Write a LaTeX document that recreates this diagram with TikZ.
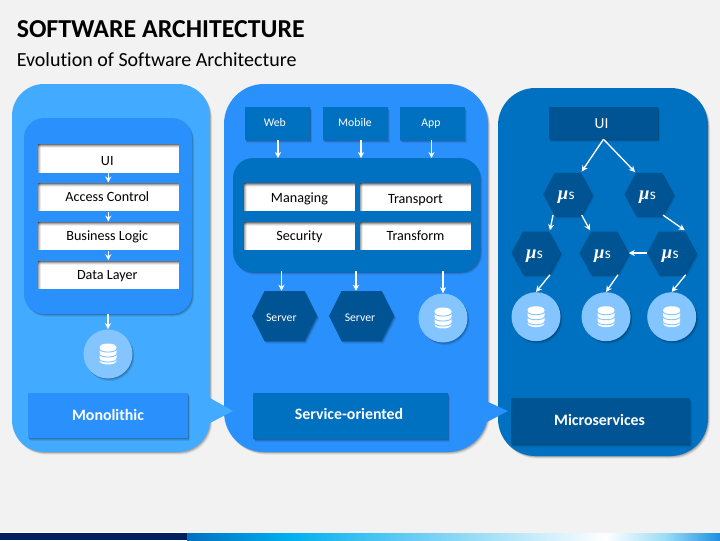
\documentclass[tikz,border=0pt]{standalone}
\usepackage{fontspec}
\setmainfont{Carlito}[Ligatures=NoCommon]
\newfontfamily\mufont{Liberation Serif}
\usetikzlibrary{arrows.meta,calc,shadows}
\definecolor{pageg}{HTML}{F2F2F2}
\definecolor{bluea}{HTML}{42ABFF}
\definecolor{blueb}{HTML}{2A90FC}
\definecolor{bluec}{HTML}{0070C0}
\definecolor{blued}{HTML}{005493}
\definecolor{bluee}{HTML}{84C5FF}
\tikzset{
  x=0.75pt,y=-0.75pt,
  softshade/.style={
    general shadow={shadow xshift=.5pt,shadow yshift=-.6pt,fill=black,opacity=.14},
    general shadow={shadow xshift=1pt,shadow yshift=-1.2pt,fill=black,opacity=.12},
    general shadow={shadow xshift=1.5pt,shadow yshift=-1.9pt,fill=black,opacity=.08}},
  panel/.style={rectangle,softshade,inner sep=0pt,minimum width=#1*0.75pt},
  baseoff/.style={text height=2*#1*0.75pt,text depth=0pt},
  wbox/.style={rectangle,fill=white,text=black,inner sep=0pt,font=\fontsize{10.6pt}{12pt}\selectfont,
    path picture={
      \foreach \ii/\oo in {0/.55,1/.35,2/.18,3/.06}
        \fill[black,opacity=\oo]
          ([yshift=-\ii*0.75pt]path picture bounding box.north west) rectangle
          ([yshift=-\ii*0.75pt-0.75pt]path picture bounding box.north east);
      \foreach \ii/\oo in {0/.35,1/.2,2/.08}
        \fill[black,opacity=\oo]
          ([xshift=\ii*0.75pt]path picture bounding box.north west) rectangle
          ([xshift=\ii*0.75pt+0.75pt]path picture bounding box.south west);
    }},
  smallbox/.style={rectangle,fill=bluec,softshade,text=white,inner sep=0pt,minimum width=65*0.75pt,minimum height=33*0.75pt,font=\fontsize{8.8pt}{10pt}\selectfont},
  bigbox/.style={rectangle,softshade,text=white,inner sep=0pt,font=\fontsize{11.9pt}{13pt}\selectfont\bfseries},
  hexnode/.style={rectangle,inner sep=0pt,text=white},
  dbcircle/.style={circle,fill=bluee,softshade,inner sep=0pt,minimum size=49*0.75pt},
  arr/.style={draw=white,line width=1pt,-{Stealth[length=4.5pt,width=4.6pt]}},
}
% hexagon: name, cx, cy, half width, half height, inset, font, text
\newcommand{\hexa}[8]{%
  \fill[blued,softshade] (#2-#4,#3) -- (#2-#4+#6,#3-#5) -- (#2+#4-#6,#3-#5) -- (#2+#4,#3)
     -- (#2+#4-#6,#3+#5) -- (#2-#4+#6,#3+#5) -- cycle;
  \node[hexnode,minimum width=2*#4*0.75pt,minimum height=2*#5*0.75pt,font=#7] (#1) at (#2,#3) {#8};
}
\newcommand{\mus}{\hspace*{-2.2pt}\raisebox{-3.75pt}[0pt][0pt]{{\fontsize{14pt}{14pt}\mufont\bfseries\itshape μ}\kern.3pt{\fontsize{11.5pt}{12pt}\selectfont s}}}
% database icon at a named node
\newcommand{\dbicon}[1]{%
  \begin{scope}[shift={(#1)}]
    \fill[white] (-8.5,-6.5) .. controls (-8.5,-11.8) and (8.5,-11.8) .. (8.5,-6.5)
       -- (8.5,6.5) .. controls (8.5,11.8) and (-8.5,11.8) .. (-8.5,6.5) -- cycle;
    \draw[bluee,line width=.7pt] (-9,-5.7) .. controls (-9,-.7) and (9,-.7) .. (9,-5.7);
    \draw[bluee,line width=.7pt] (-9,-.7) .. controls (-9,4.3) and (9,4.3) .. (9,-.7);
    \draw[bluee,line width=.7pt] (-9,4.3) .. controls (-9,9.3) and (9,9.3) .. (9,4.3);
  \end{scope}}
\begin{document}
\begin{tikzpicture}
\useasboundingbox (0,0) rectangle (720,540);
\fill[pageg] (0,0) rectangle (720,540);
% bottom bar
\fill[white] (0,532) rectangle (187,533.5);
\fill[white!70!pageg] (187,532.6) rectangle (400,533.5);
\fill[color={rgb,255:red,0;green,32;blue,96}] (0,533.4) rectangle (187,540);
\shade[left color=bluec,right color={rgb,255:red,0;green,176;blue,240}] (187,533.4) rectangle (290,540);
\shade[left color={rgb,255:red,0;green,176;blue,240},right color={rgb,255:red,143;green,216;blue,245}] (289.9,533.4) rectangle (460,540);
\shade[left color={rgb,255:red,143;green,216;blue,245},right color=white] (459.9,533.4) rectangle (606,540);
\shade[left color=white,right color={rgb,255:red,156;green,220;blue,245}] (605.9,533.4) rectangle (665,540);
\shade[left color={rgb,255:red,156;green,220;blue,245},right color={rgb,255:red,28;green,143;blue,224}] (664.9,533.4) rectangle (720,540);
% titles
\node[anchor=west,inner sep=0pt,text=black,font=\fontsize{19.4pt}{22pt}\selectfont\bfseries] (title) at (16.5,29) {SOFTWARE ARCHITECTURE};
\node[anchor=west,inner sep=0pt,text=black,font=\fontsize{15pt}{17pt}\selectfont] (subtitle) at (16.5,60) {Evolution of Software Architecture};
% panels
\node[panel=198,minimum height=368*0.75pt,fill=bluea,rounded corners=24pt] (p1) at (111,268) {};
\node[panel=264,minimum height=368*0.75pt,fill=blueb,rounded corners=30pt] (p2) at (356,268) {};
\node[panel=210,minimum height=368*0.75pt,fill=bluec,rounded corners=28pt] (p3) at (603,272) {};
% pointers
\fill[bluea] (210,398) -- (233,411) -- (210,423) -- cycle;
\fill[blueb] (487,401.5) -- (508,411) -- (487,422) -- cycle;
% ---- monolithic
\node[panel=168,minimum height=196*0.75pt,fill=blueb,rounded corners=15pt] (mono) at (108,216) {};
\foreach \nm/\yy/\bo/\tx in {m1/158.25/6.75/UI,m2/197/4.7/Access Control,m3/236/4.7/Business Logic,m4/274.75/4.25/Data Layer}
  \node[wbox,baseoff=\bo,minimum width=141.5*0.75pt,minimum height=28.5*0.75pt] (\nm) at (108.3,\yy) {\hspace*{-1.5pt}\tx};
\draw[arr] (m1) -- (m2);
\draw[arr] (m2) -- (m3);
\draw[arr] (m3) -- (m4);
\node[dbcircle] (mdb) at (108,354) {};
\dbicon{mdb}
\draw[arr] (mono) -- (mdb);
\node[bigbox,fill=blueb,baseoff=4.5,minimum width=160*0.75pt,minimum height=45*0.75pt] (mlabel) at (108,415.5) {Monolithic};
% ---- service oriented
\node[smallbox] (web) at (277.5,123.5) {\hspace*{-4pt}\raisebox{-1.9pt}[0pt][0pt]{Web}};
\node[smallbox] (mobile) at (355,123.5) {\raisebox{-1.9pt}[0pt][0pt]{Mobile}};
\node[smallbox] (app) at (432,123.5) {\hspace*{-1.5pt}\raisebox{-1.9pt}[0pt][0pt]{App}};
\node[panel=247,minimum height=114*0.75pt,fill=bluec,rounded corners=15pt] (bus) at (356.5,215) {};
\coordinate (bweb) at (278,158);
\coordinate (bmob) at (361,158);
\coordinate (bapp) at (431.5,158);
\draw[arr] (web.south -| bweb) -- (bweb);
\draw[arr] (mobile.south -| bmob) -- (bmob);
\draw[arr] (app.south -| bapp) -- (bapp);
\node[wbox,baseoff=5.5,minimum width=111*0.75pt,minimum height=28.5*0.75pt] (s1) at (299.5,196.75) {Managing};
\node[wbox,baseoff=6.5,minimum width=111*0.75pt,minimum height=28.5*0.75pt] (s2) at (415.5,196.75) {Transport};
\node[wbox,baseoff=4.3,minimum width=111*0.75pt,minimum height=28.5*0.75pt] (s3) at (299.5,235.75) {Security};
\node[wbox,baseoff=4.3,minimum width=111*0.75pt,minimum height=28.5*0.75pt] (s4) at (415.5,235.75) {Transform};
\hexa{srv1}{284.5}{316}{32.5}{25}{12.5}{\fontsize{8.8pt}{10pt}\selectfont}{\hspace*{-4.8pt}\raisebox{-4.3pt}[0pt][0pt]{Server}}
\hexa{srv2}{361.5}{316}{32.5}{25}{12.5}{\fontsize{8.8pt}{10pt}\selectfont}{\hspace*{-2.2pt}\raisebox{-4.3pt}[0pt][0pt]{Server}}
\node[dbcircle] (sdb) at (443,318) {};
\dbicon{sdb}
\draw[arr] (bus.south -| srv1.north) ++(-3,-1) coordinate (a1) (a1) -- (a1 |- srv1.north);
\draw[arr] (bus.south -| srv2.north) ++(-5.5,-1) coordinate (a2) (a2) -- (a2 |- srv2.north);
\draw[arr] (bus.south -| sdb.north) ++(0,-1) coordinate (a3) (a3) -- (sdb.north);
\node[bigbox,fill=bluec,baseoff=3.3,minimum width=194.5*0.75pt,minimum height=46*0.75pt] (slabel) at (350.7,416) {\hspace*{-2.5pt}Service-oriented};
% ---- microservices
\node[rectangle,fill=blued,softshade,text=white,inner sep=0pt,minimum width=109*0.75pt,minimum height=32*0.75pt,font=\fontsize{11.5pt}{12pt}\selectfont] (ui) at (603.5,123) {\hspace*{-3pt}\raisebox{-4pt}[0pt][0pt]{UI}};
\hexa{h1}{567.7}{194.3}{24.5}{21.5}{11.5}{}{\mus}
\hexa{h2}{649}{194.3}{24.5}{21.5}{11.5}{}{\mus}
\hexa{h3}{536}{253}{24.5}{21.5}{11.5}{}{\mus}
\hexa{h4}{604}{253}{24.5}{21.5}{11.5}{}{\mus}
\hexa{h5}{671.7}{253}{24.5}{21.5}{11.5}{}{\mus}
\node[dbcircle] (d3) at (536,316.7) {};
\node[dbcircle] (d4) at (606,316.7) {};
\node[dbcircle] (d5) at (671.7,316.7) {};
\dbicon{d3}\dbicon{d4}\dbicon{d5}
\draw[arr] (ui.south) -- ($(h1.north)+(14,-1)$);
\draw[arr] (ui.south) -- ($(h2.north)+(-14,-.5)$);
\draw[arr] ($(h1.south)+(-14.7,-1)$) -- ($(h3.north)+(14,-1)$);
\draw[arr] ($(h1.south)+(14,-1)$) -- ($(h4.north)+(-14,-1)$);
\draw[arr] ($(h2.south)+(14,-1)$) -- ($(h5.north)+(13,-1)$);
\draw[arr] (h5.west) -- (h4.east);
\draw[arr] ($(h3.south)+(14,0)$) -- (d3.north);
\draw[arr] ($(h4.south)+(14,0)$) -- (d4.north);
\draw[arr] ($(h5.south)+(14,0)$) -- (d5.north);
\node[bigbox,fill=blued,baseoff=4,minimum width=178.5*0.75pt,minimum height=46*0.75pt] (clabel) at (600.3,421) {\hspace*{-1pt}Microservices};
\end{tikzpicture}
\end{document}
